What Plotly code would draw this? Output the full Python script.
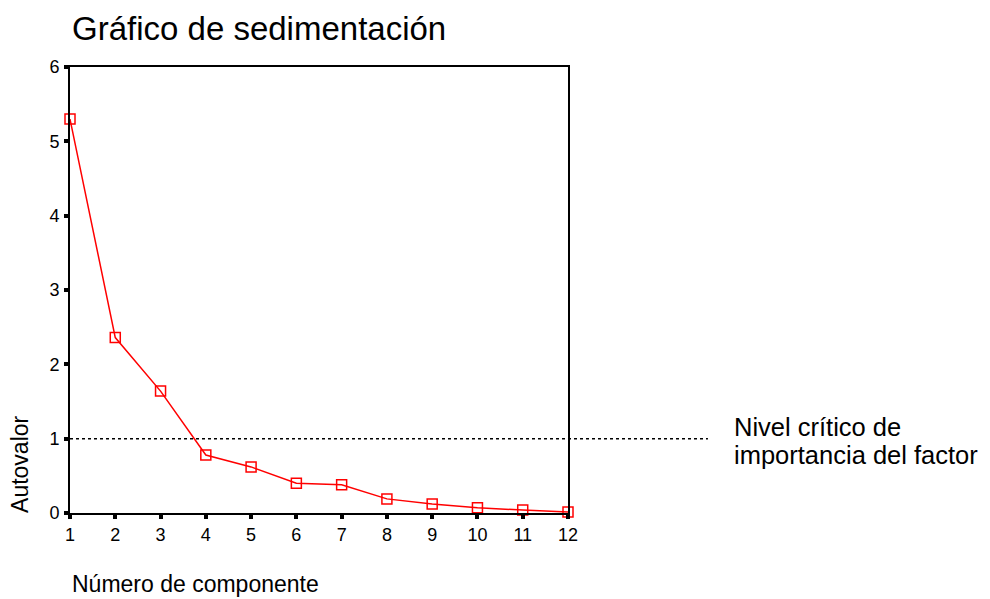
import plotly.graph_objects as go

components = [1, 2, 3, 4, 5, 6, 7, 8, 9, 10, 11, 12]
eigenvalues = [5.30, 2.36, 1.64, 0.78, 0.62, 0.40, 0.38, 0.19, 0.12, 0.07, 0.04, 0.015]
critical_level = 1
x_ticks = list(range(1, 13))
y_ticks = [0, 1, 2, 3, 4, 5, 6]

FONT = "Liberation Sans, Arial, sans-serif"

fig = go.Figure()
fig.add_trace(go.Scatter(
    x=components, y=eigenvalues, mode="lines+markers",
    line=dict(color="#ff0000", width=1.5),
    marker=dict(symbol="square-open", size=10, color="#ff0000", line=dict(width=1.5, color="#ff0000")),
    cliponaxis=False, showlegend=False, hoverinfo="x+y",
))

fig.add_shape(type="line", xref="paper", yref="y", x0=0, x1=1.281,
              y0=critical_level, y1=critical_level,
              line=dict(color="black", width=1.5, dash="dot"))

axis_common = dict(showgrid=False, zeroline=False, showline=True, linecolor="black",
                   linewidth=2, mirror=True, ticks="outside", ticklen=4, tickwidth=4,
                   tickcolor="black", tickfont=dict(family=FONT, size=18, color="black"))

fig.update_xaxes(range=[1, 12], tickvals=x_ticks, ticktext=[str(v) for v in x_ticks],
                 **axis_common)
fig.update_yaxes(range=[0, 6], tickvals=y_ticks, ticktext=[str(v) for v in y_ticks],
                 ticklabelstandoff=1, **axis_common)

fig.add_annotation(text="Gráfico de sedimentación", xref="paper", yref="paper",
                   x=0.0, y=1.087, xanchor="left", yanchor="middle", showarrow=False,
                   font=dict(family=FONT, size=33, color="black"))
fig.add_annotation(text="Número de componente", xref="paper", yref="paper",
                   x=0.0, y=(513 - 584) / 446, xanchor="left", yanchor="middle", showarrow=False,
                   font=dict(family=FONT, size=23, color="black"))
fig.add_annotation(text="Autovalor", xref="paper", yref="paper", textangle=-90,
                   x=-0.1004, y=0.11, xanchor="center", yanchor="middle", showarrow=False,
                   font=dict(family=FONT, size=23, color="black"))
fig.add_annotation(text="Nivel crítico de", xref="paper", yref="paper",
                   x=1.33, y=(513 - 427) / 446, xanchor="left", yanchor="middle", align="left",
                   showarrow=False, font=dict(family=FONT, size=25.5, color="black"))
fig.add_annotation(text="importancia del factor", xref="paper", yref="paper",
                   x=1.33, y=(513 - 455) / 446, xanchor="left", yanchor="middle", align="left",
                   showarrow=False, font=dict(family=FONT, size=25.5, color="black"))

fig.update_layout(width=982, height=591, margin=dict(l=62, r=422, t=59, b=86),
                  paper_bgcolor="white", plot_bgcolor="white",
                  font=dict(family=FONT, color="black"))

fig.write_html("out.html")
